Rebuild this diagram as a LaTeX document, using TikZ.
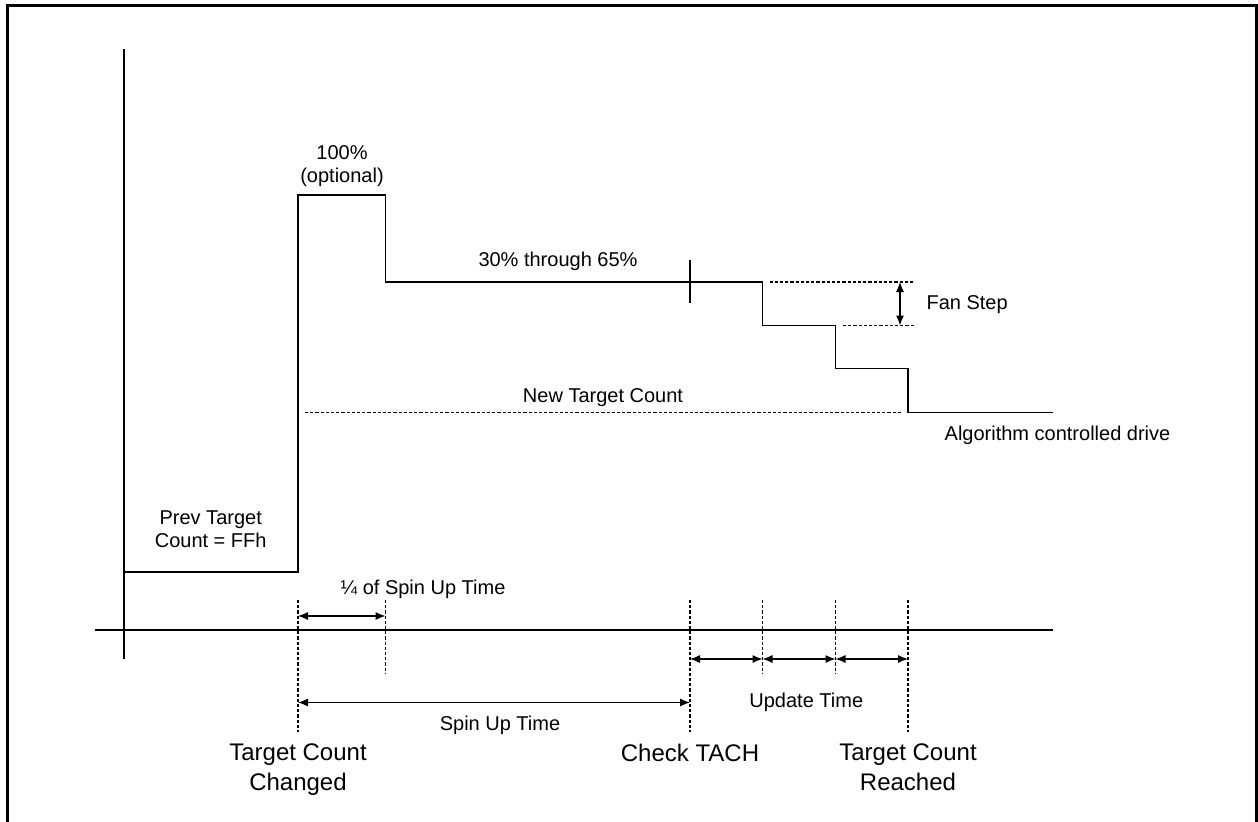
\documentclass[tikz,border=0pt]{standalone}
\usepackage{fontspec}
\setmainfont{Liberation Sans}
\usetikzlibrary{arrows.meta,calc}

\begin{document}
\begin{tikzpicture}[x=0.5pt, y=-0.5pt, line width=0.55pt,
    guide/.style={dash pattern=on 1.6pt off 1pt},
    span/.style={{Latex[length=5pt,width=4pt]}-{Latex[length=5pt,width=4pt]}},
    lbl/.style={font=\fontsize{10}{11.8}\selectfont, align=center, inner sep=0pt, text height=7.2pt, text depth=0pt},
    evt/.style={font=\fontsize{12}{14.7}\selectfont, align=center, inner sep=0pt, text height=8.6pt, text depth=0pt}]

    \useasboundingbox (0,0) rectangle (1258,821);

    % frame
    \draw[line width=1.1pt] (7.5,840) -- (7.5,5.5) -- (1256.5,5.5) -- (1256.5,840);

    % axis
    \coordinate (orig) at (124,630);
    \draw (124,49) -- (124,659);
    \draw (95,630) -- (1053,630);

    % fan drive
    \draw (124,572) -| (298,195) -| (385.5,282) -| (762.5,325.5) -| (835.5,368.5) -| (908,412.5) -- (1053,412.5);
    \draw (690,260) -- (690,303);

    \draw[guide] (305,412.5) -- (901,412.5);
    \draw[guide] (769.5,282) -- (913.5,282);
    \draw[guide] (843,325.5) -- (915.5,325.5);
    \draw[span] (900,282) -- (900,325.5);

    % time marks
    \coordinate (changed) at (298,600);
    \coordinate (quarter) at (385.5,600);
    \coordinate (tach) at (690,600);
    \coordinate (upA) at (762.5,600);
    \coordinate (upB) at (835.5,600);
    \coordinate (reached) at (908,600);

    \foreach \m/\len in {changed/132, quarter/74, tach/132, upA/74, upB/74, reached/132}
        \draw[guide] (\m) -- ++(0,\len);

    \draw[span] ($(changed)+(0,16)$) -- ($(quarter)+(0,16)$);
    \draw[span] ($(changed)+(0,102.5)$) -- ($(tach)+(0,102.5)$);
    \foreach \a/\b in {tach/upA, upA/upB, upB/reached}
        \draw[span] ($(\a)+(0,59)$) -- ($(\b)+(0,59)$);

    % labels
    \node[lbl] (full) at (342,175.5) {100\%\\(optional)};
    \node[lbl] (range) at (558,259) {30\% through 65\%};
    \node[lbl] (newcount) at (603,395) {New Target Count};
    \node[lbl, anchor=west] (fanstep) at (926,302) {Fan Step};
    \node[lbl] (algo) at (1057.5,433.5) {Algorithm controlled drive};
    \node[lbl] (prev) at (210.7,540.7) {Prev Target\\Count = FFh};
    \node[lbl] (quarterlbl) at (423,587) {¼ of Spin Up Time};
    \node[lbl] (spinup) at (500,723) {Spin Up Time};
    \node[lbl] (update) at (806.3,700.7) {Update Time};

    \node[evt] (changedlbl) at (298,781.5) {Target Count\\Changed};
    \node[evt] (tachlbl) at (690,753) {Check TACH};
    \node[evt] (reachedlbl) at (908,781.5) {Target Count\\Reached};

\end{tikzpicture}
\end{document}
